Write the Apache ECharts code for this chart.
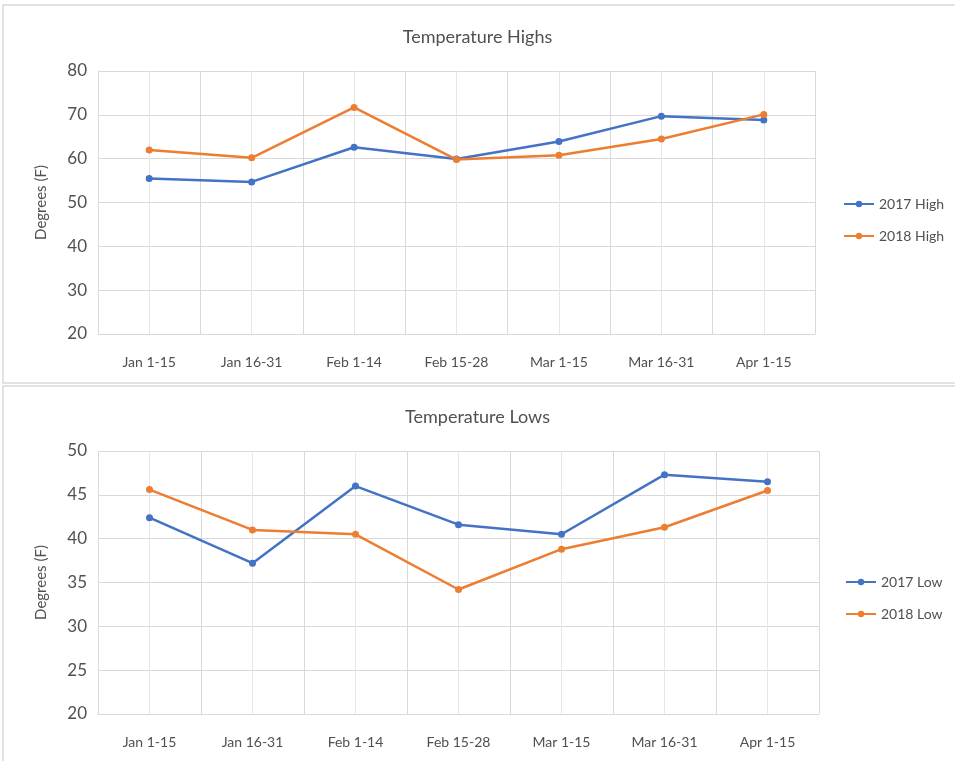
<!DOCTYPE html>
<html>
<head>
<meta charset="utf-8">
<title>Temperature Highs and Lows</title>
<script src="https://cdn.jsdelivr.net/npm/echarts@6/dist/echarts.min.js"></script>
<style>
    html, body { margin: 0; padding: 0; background: #fff; }
    #main { width: 955px; height: 761px; }
</style>
</head>
<body>
<div id="main"></div>
<script>
// 日期区间
var categories = ['Jan 1-15', 'Jan 16-31', 'Feb 1-14', 'Feb 15-28', 'Mar 1-15', 'Mar 16-31', 'Apr 1-15'];

// 最高气温
var high2017 = [55.5, 54.7, 62.6, 59.9, 63.9, 69.7, 68.8];
var high2018 = [62.0, 60.2, 71.7, 59.8, 60.8, 64.5, 70.1];

// 最低气温
var low2017 = [42.4, 37.2, 46.0, 41.6, 40.5, 47.3, 46.5];
var low2018 = [45.6, 41.0, 40.5, 34.2, 38.8, 41.3, 45.5];

var highTicks = [20, 80, 10]; // min, max, interval
var lowTicks = [20, 50, 5];

var blue = '#4472C4';
var orange = '#ED7D31';
var textColor = '#505050';
var gridColor = '#d9d9d9';
var font = 'Lato, "Open Sans", sans-serif';

var myChart = echarts.init(document.getElementById('main'));

function xAxisOf(idx) {
    return {
        type: 'category',
        gridIndex: idx,
        data: categories,
        boundaryGap: true,
        axisLine: { lineStyle: { color: gridColor } },
        axisTick: { show: false },
        axisLabel: { color: textColor, fontSize: 14, fontFamily: font, margin: 21 },
        splitLine: { show: true, lineStyle: { color: gridColor } }
    };
}

function yAxisOf(idx, ticks) {
    return {
        type: 'value',
        gridIndex: idx,
        min: ticks[0],
        max: ticks[1],
        interval: ticks[2],
        name: 'Degrees (F)',
        nameLocation: 'middle',
        nameGap: 49,
        nameTextStyle: { color: textColor, fontSize: 15, fontFamily: font },
        axisLine: { show: true, lineStyle: { color: gridColor } },
        axisTick: { show: false },
        axisLabel: { color: textColor, fontSize: 17, fontFamily: font, margin: 11 },
        splitLine: { lineStyle: { color: gridColor } }
    };
}

function lineSeries(name, data, color, idx) {
    return {
        name: name,
        type: 'line',
        xAxisIndex: idx,
        yAxisIndex: idx,
        data: data,
        symbol: 'circle',
        symbolSize: 7,
        lineStyle: { color: color, width: 2.5 },
        itemStyle: { color: color, borderWidth: 0 },
        z: 3
    };
}

// 类目中心的竖线
function centerLines(idx) {
    return {
        type: 'line',
        xAxisIndex: idx,
        yAxisIndex: idx,
        data: [],
        silent: true,
        z: 1,
        markLine: {
            silent: true,
            z: 1,
            symbol: 'none',
            label: { show: false },
            lineStyle: { color: '#e6e6e6', width: 1, type: 'solid' },
            data: categories.map(function (c) { return { xAxis: c }; })
        }
    };
}

var option = {
    animation: false,
    backgroundColor: '#fff',
    textStyle: { fontFamily: font },
    graphic: [
        { type: 'rect', shape: { x: 3, y: 5, width: 960, height: 378 }, style: { fill: 'none', stroke: gridColor, lineWidth: 1.5 }, z: -1 },
        { type: 'rect', shape: { x: 3, y: 386, width: 960, height: 380 }, style: { fill: 'none', stroke: gridColor, lineWidth: 1.5 }, z: -1 }
    ],
    title: [
        { text: 'Temperature Highs', left: 'center', top: 23, textStyle: { color: textColor, fontSize: 18, fontWeight: 'normal', fontFamily: font } },
        { text: 'Temperature Lows', left: 'center', top: 403, textStyle: { color: textColor, fontSize: 18, fontWeight: 'normal', fontFamily: font } }
    ],
    legend: [
        {
            data: ['2017 High', '2018 High'],
            orient: 'vertical', left: 838, top: 192,
            itemWidth: 30, itemHeight: 8, itemGap: 18,
            textStyle: { color: textColor, fontSize: 14, fontFamily: font }
        },
        {
            data: ['2017 Low', '2018 Low'],
            orient: 'vertical', left: 840, top: 570,
            itemWidth: 30, itemHeight: 8, itemGap: 18,
            textStyle: { color: textColor, fontSize: 14, fontFamily: font }
        }
    ],
    grid: [
        { left: 98, right: 140, top: 71, height: 263 },
        { left: 98, right: 136, top: 451, height: 263 }
    ],
    xAxis: [xAxisOf(0), xAxisOf(1)],
    yAxis: [yAxisOf(0, highTicks), yAxisOf(1, lowTicks)],
    series: [
        centerLines(0),
        centerLines(1),
        lineSeries('2017 High', high2017, blue, 0),
        lineSeries('2018 High', high2018, orange, 0),
        lineSeries('2017 Low', low2017, blue, 1),
        lineSeries('2018 Low', low2018, orange, 1)
    ]
};

myChart.setOption(option);
</script>
</body>
</html>
